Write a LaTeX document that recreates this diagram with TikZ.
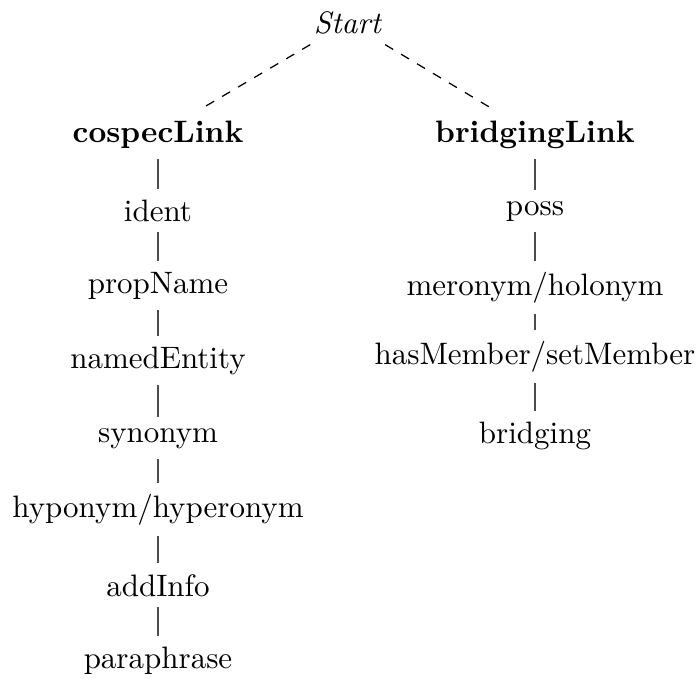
\documentclass[tikz,border=0pt]{standalone}
\begin{document}
\begin{tikzpicture}[x=0.3226pt,y=-0.3226pt,
  lbl/.style={anchor=base, inner sep=3.33pt},
  vedge/.style={draw=black!70, line width=0.4pt},
  dedge/.style={draw=black, dashed, line width=0.4pt}]
\useasboundingbox (0,0) rectangle (699,679);
\node[lbl] (start) at (348,33) {\textit{Start}};
% left branch
\node[lbl,font=\bfseries] (cospec) at (158,142) {cospecLink};
\node[lbl] (ident) at (158,221) {ident};
\node[lbl] (prop) at (158,293) {propName};
\node[lbl] (named) at (158,368) {namedEntity};
\node[lbl] (syn) at (158,442) {synonym};
\node[lbl] (hypo) at (158,517) {hyponym/hyperonym};
\node[lbl] (add) at (158,596) {addInfo};
\node[lbl] (para) at (158,668) {paraphrase};
% right branch
\node[lbl,font=\bfseries] (bridl) at (535,142) {bridgingLink};
\node[lbl] (poss) at (535,215) {poss};
\node[lbl] (mero) at (535,295) {meronym/holonym};
\node[lbl] (has) at (535,364) {hasMember/setMember};
\node[lbl] (brid) at (535,443) {bridging};
% edges
\draw[dedge] (start) -- (cospec);
\draw[dedge] (start) -- (bridl);
\foreach \a/\b in {cospec/ident, ident/prop, prop/named, named/syn, syn/hypo, hypo/add, add/para,
                   bridl/poss, poss/mero, mero/has, has/brid}
  \draw[vedge] (\a.south) -- (\b.north);
\end{tikzpicture}
\end{document}
